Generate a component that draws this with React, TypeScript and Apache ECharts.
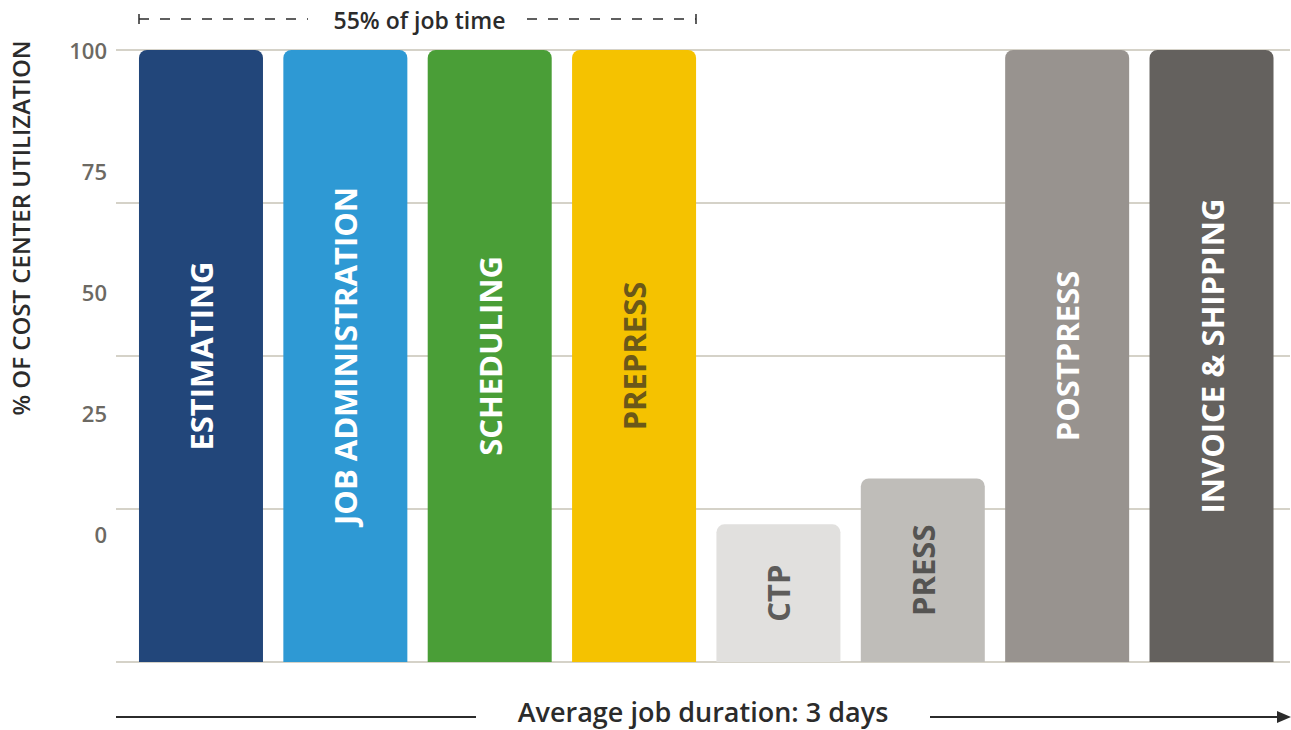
import React, { useEffect, useRef } from "react";
import * as echarts from "echarts";

const categories = [
  "ESTIMATING",
  "JOB ADMINISTRATION",
  "SCHEDULING",
  "PREPRESS",
  "CTP",
  "PRESS",
  "POSTPRESS",
  "INVOICE & SHIPPING",
];
const values = [100, 100, 100, 100, 22.5, 30, 100, 100];
const barColors = [
  "#22467a",
  "#2e99d4",
  "#4a9e37",
  "#f5c200",
  "#e1e0de",
  "#bfbdb9",
  "#98938f",
  "#64615e",
];
const labelColors = [
  "#ffffff",
  "#ffffff",
  "#ffffff",
  "#6b5819",
  "#5d5c5a",
  "#555452",
  "#ffffff",
  "#ffffff",
];
const tickLabels = [0, 25, 50, 75, 100];

const FONT = "'Open Sans', 'Noto Sans', sans-serif";
const DARK = "#2b2b2b";

export default function App() {
  const ref = useRef<HTMLDivElement>(null);
  useEffect(() => {
    if (!ref.current) return;
    const chart = echarts.init(ref.current, null, { renderer: "svg" });
    const option: any = {
      animation: false,
      backgroundColor: "#ffffff",
      grid: [
        { left: 116, right: 1, top: 50, bottom: 68 },
        { left: 128.8, right: 7.3, top: 50, bottom: 68 },
      ],
      xAxis: [
        {
          type: "category",
          gridIndex: 0,
          data: categories,
          show: false,
        },
        {
          type: "category",
          gridIndex: 1,
          data: categories,
          axisLine: { show: false },
          axisTick: { show: false },
          axisLabel: { show: false },
        },
      ],
      yAxis: [
        {
          type: "value",
          gridIndex: 0,
          min: 0,
          max: 100,
          interval: 25,
          axisLine: { show: false },
          axisTick: { show: false },
          axisLabel: { show: false },
          splitLine: { show: true, lineStyle: { color: "#d5d2c8", width: 2 } },
        },
        {
          type: "value",
          gridIndex: 0,
          position: "left",
          min: -26.45,
          max: 100,
          axisLine: { show: false },
          axisTick: { show: false },
          splitLine: { show: false },
          axisLabel: {
            show: true,
            customValues: tickLabels,
            margin: 9,
            color: "#6c6963",
            fontFamily: FONT,
            fontWeight: 600,
            fontSize: 22,
          },
        },
        {
          type: "value",
          gridIndex: 1,
          min: 0,
          max: 100,
          show: false,
          splitLine: { show: false },
        },
      ],
      series: [
        {
          type: "bar",
          xAxisIndex: 1,
          yAxisIndex: 2,
          barWidth: 124,
          data: values.map((v, i) => ({
            value: v,
            itemStyle: { color: barColors[i], borderRadius: [8, 8, 0, 0] },
            label: { color: labelColors[i] },
          })),
          label: {
            show: true,
            position: "inside",
            rotate: 90,
            formatter: "{b}",
            fontFamily: FONT,
            fontWeight: "bold",
            fontSize: 31,
          },
        },
      ],
      graphic: [
        {
          type: "text",
          x: 20,
          y: 228,
          rotation: Math.PI / 2,
          style: {
            text: "% OF COST CENTER UTILIZATION",
            align: "center",
            verticalAlign: "middle",
            fill: DARK,
            font: `600 24px ${FONT}`,
          },
        },
        // top annotation
        {
          type: "line",
          shape: { x1: 139, y1: 14, x2: 139, y2: 24 },
          style: { stroke: DARK, lineWidth: 1.5 },
        },
        {
          type: "line",
          shape: { x1: 139, y1: 19, x2: 308, y2: 19 },
          style: { stroke: DARK, lineWidth: 1.5, lineDash: [10, 11] },
        },
        {
          type: "text",
          x: 419.5,
          y: 20,
          style: {
            text: "55% of job time",
            align: "center",
            verticalAlign: "middle",
            fill: DARK,
            font: `600 23px ${FONT}`,
          },
        },
        {
          type: "line",
          shape: { x1: 527, y1: 19, x2: 696, y2: 19 },
          style: { stroke: DARK, lineWidth: 1.5, lineDash: [10, 11] },
        },
        {
          type: "line",
          shape: { x1: 696, y1: 14, x2: 696, y2: 24 },
          style: { stroke: DARK, lineWidth: 1.5 },
        },
        // bottom annotation
        {
          type: "line",
          shape: { x1: 116, y1: 717, x2: 476, y2: 717 },
          style: { stroke: DARK, lineWidth: 2 },
        },
        {
          type: "text",
          x: 703,
          y: 711,
          style: {
            text: "Average job duration: 3 days",
            align: "center",
            verticalAlign: "middle",
            fill: DARK,
            lineHeight: 27,
            font: `600 27px ${FONT}`,
          },
        },
        {
          type: "line",
          shape: { x1: 930, y1: 717, x2: 1280, y2: 717 },
          style: { stroke: DARK, lineWidth: 2 },
        },
        {
          type: "polygon",
          shape: {
            points: [
              [1291, 717],
              [1277, 711],
              [1277, 723],
            ],
          },
          style: { fill: DARK },
        },
      ],
    };
    chart.setOption(option);
    return () => chart.dispose();
  }, []);
  return (
    <div
      ref={ref}
      style={{ position: "absolute", left: 0, top: 0, width: 1291, height: 730 }}
    />
  );
}
